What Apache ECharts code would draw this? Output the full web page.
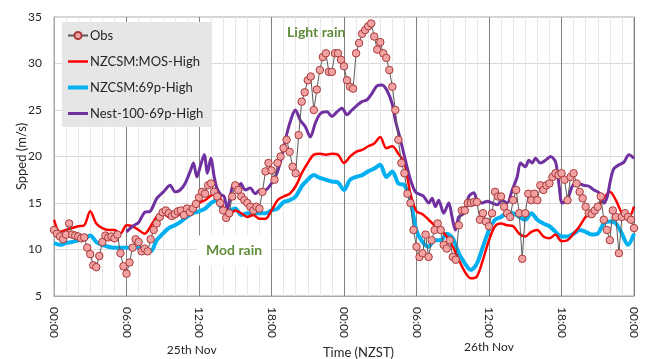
<!DOCTYPE html>
<html><head><meta charset="utf-8">
<script src="https://cdn.jsdelivr.net/npm/echarts@6/dist/echarts.min.js"></script>
<style>html,body{margin:0;padding:0;background:#fff}#c{width:648px;height:359px}</style>
</head><body><div id="c"></div>
<script>
// Observations: every 15 min from 00:00 25 Nov (hour 0) to 00:00 27 Nov (hour 48)
const obsStepHours = 0.25;
const obsValues = [
  12.1,11.7,11.4,11.1, 11.6,12.8,11.6,11.5, 11.4,11.2,11.3,10.2, 9.5,8.3,8.1,9.3,
  10.8,11.5,11.3,11.4, 11.2,11.6,9.6,8.2, 7.4,8.6,10.2,11.1, 10.8,9.8,10.1,9.8,
  11.1,12.1,12.8,13.5, 14.0,14.2,13.9,13.6, 13.8,14.1,14.2,13.7, 14.4,14.0,14.4,14.9,
  15.6,16.2,16.0,16.9, 17.1,16.2,15.7,15.0, 14.2,13.4,13.9,15.7, 16.9,16.4,15.7,15.3,
  15.0,14.6,14.2,14.6, 14.4,16.2,18.4,19.3, 18.5,17.5,19.3,20.0, 20.9,21.8,20.5,18.9,
  18.2,22.3,25.9,26.9, 28.2,28.6,25.0,27.2, 29.3,30.7,31.1,29.1, 29.1,31.1,31.1,30.4,
  29.7,28.2,27.5,27.3, 31.1,32.2,33.2,33.6, 34.0,34.3,32.9,31.5, 32.3,31.1,30.6,29.3,
  27.5,25.0,21.8,19.3, 18.2,16.0,15.0,12.1, 10.3,9.2,9.6,11.6, 9.2,11.0,12.1,12.8,
  12.1,10.5,10.1,11.0, 9.2,8.9,12.6,14.2, 14.2,15.0,15.0,15.1, 15.1,13.2,13.9,13.0,
  12.5,13.9,16.2,15.7, 15.7,14.6,13.9,13.5, 15.3,16.4,13.9,9.0, 13.9,16.0,15.3,16.0,
  15.3,16.9,16.4,16.9, 17.1,17.8,18.2,18.0, 18.2,17.5,15.3,17.8, 18.2,17.1,16.2,15.5,
  14.6,13.9,13.8,14.2, 14.6,15.7,13.2,12.1, 11.0,14.2,13.5,9.6, 13.5,13.9,13.5,13.2,
  12.3
];
// Model series every 30 min from hour 0 to hour 48
const modelStepHours = 0.5;
const mosValues = [
  13.2,11.9,12.1,12.3,12.5,12.6,14.1,12.8,12.3,12.1, 12.1,11.7,12.6,12.5,12.1,11.7,12.5,13.5,13.9,13.5,
  13.5,13.9,14.4,14.2,15.0,15.3,15.8,16.2,14.6,13.7, 14.2,13.9,13.5,13.7,13.3,13.3,14.2,15.3,15.7,16.0,
  16.8,18.2,19.3,20.2,20.3,20.2,20.3,20.2,19.3,20.0, 20.5,20.7,21.1,21.4,22.1,20.9,21.1,20.3,19.3,16.0,
  14.1,13.8,13.2,12.6,12.1,11.4,10.3,8.9,7.6,6.9, 7.1,8.9,11.0,12.5,12.8,12.6,12.5,11.7,11.4,11.9,
  12.1,11.4,11.2,11.6,10.9,11.0,11.7,12.5,13.5,13.9, 14.6,15.5,16.2,15.3,13.9,13.3,14.6
];
const p69Values = [
  10.7,10.5,10.7,10.8,11.0,11.1,11.5,10.8,10.5,10.3, 10.2,10.2,10.2,10.2,10.2,10.0,9.8,11.0,11.7,12.3,
  12.6,13.0,13.5,13.9,14.1,14.4,15.0,15.3,14.2,14.2, 14.4,13.7,13.9,13.9,13.9,13.9,14.2,14.4,15.1,15.3,
  15.7,16.8,17.5,18.0,17.7,17.5,17.3,17.2,16.4,17.5, 17.8,18.0,18.4,18.7,19.1,17.8,18.4,17.1,16.9,15.3,
  12.0,10.8,10.3,11.0,11.0,11.7,11.2,9.6,8.5,7.8, 8.5,10.3,12.1,13.2,13.5,13.9,13.9,13.5,13.2,13.9,
  13.2,12.8,12.5,11.9,11.4,11.4,11.7,12.1,11.9,11.6, 11.7,12.8,13.0,12.8,11.7,10.5,11.7
];
// Nest-100 series (starts 06:00 25 Nov), irregular read-off times
const nestHours = [
  6.0,6.5,7.0,7.5,7.95,8.51,9.06,9.61,10.02,10.44, 10.85,11.27,11.54,11.82,12.10,12.43,12.70,12.98,13.26,13.48,
  13.81,14.08,14.36,14.58,14.86,15.13,15.47,15.82,16.24,16.65, 17.07,17.48,17.89,
  18.45,18.86,19.28,19.69,19.97,20.38,20.80,21.21,21.63,22.04, 22.59,23.01,23.42,23.83,24.25,24.66,25.08,25.49,25.91,26.32,
  26.73,27.15,27.56,27.98,28.25,28.67,29.08,29.50,29.91,
  30.32,30.6,31.01,31.29,31.56,31.84,32.25,32.67,32.94,33.22, 33.5,33.91,34.33,34.74,35.02,35.43,35.85,36.26,36.67,37.09,
  37.5,37.92,38.33,38.61,39.02,39.3,39.57,39.85,40.26,40.68, 41.09,41.51,41.78,42.06,42.47,42.89,43.3,43.85,44.27,44.68,
  45.1,45.51,45.79,46.06,46.34,46.75,47.17,47.58,48.0
];
const nestValues = [
  11.9,12.5,12.9,14.0,14.1,15.5,16.2,16.9,16.2,16.4, 17.1,18.4,19.3,17.8,18.9,20.2,18.2,19.8,17.8,16.6,
  15.9,15.7,14.3,15.7,17.1,16.2,17.1,16.4,16.6,16.0, 16.4,16.4,16.9,
  18.2,20.0,22.5,24.3,25.0,23.9,23.2,22.1,23.6,24.6, 24.8,24.3,24.8,25.2,24.5,25.0,25.5,25.9,26.1,26.8,
  27.6,27.7,27.1,25.7,23.9,21.8,19.6,17.5,16.2,
  15.9,15.7,15.0,15.5,14.6,15.3,13.9,15.0,13.5,12.1, 13.5,13.9,15.7,16.1,15.3,15.0,15.2,15.0,14.8,15.3,
  15.0,16.4,17.8,19.3,18.9,19.6,19.3,19.8,19.3,19.6, 20.0,19.4,17.1,15.0,15.3,16.8,17.1,16.9,16.8,16.4,
  16.1,15.0,15.7,17.5,18.7,19.1,19.4,20.2,19.8
];
const seriesNames = ['Obs', 'NZCSM:MOS-High', 'NZCSM:69p-High', 'Nest-100-69p-High'];
const seriesColors = ['#5a5a5a', '#ff0000', '#00b0f0', '#7030a0'];
const seriesWidths = [1, 2.5, 4, 3];
const yTicks = {min: 5, max: 35, interval: 5};
const xTicks = {min: 0, max: 48, interval: 6};
const dayLabels = [{text: '25th Nov', hour: 11.4, dy: 9}, {text: '26th Nov', hour: 36, dy: 12}];
const xTitle = {text: 'Time (NZST)', hour: 25.2};
const notes = [{text: 'Light rain', hour: 21.7, value: 33.3, bg: false}, {text: 'Mod rain', hour: 14.9, value: 9.9, bg: true}];

const toPairs = (vals, step) => vals.map((v, i) => [i * step, v]);
const pad = n => (n < 10 ? '0' : '') + n;
const FONT = 'Lato, "Open Sans", sans-serif';
const TXT = '#262626';
const barIcon = w => 'path://M0,0H' + (20 / w).toFixed(3) + 'V1H0Z';

const legendData = seriesNames.map((n, i) => i === 0 ? {name: n} : {name: n, icon: barIcon(seriesWidths[i]), itemStyle: {color: seriesColors[i]}});

const chart = echarts.init(document.getElementById('c'));
chart.setOption({
  animation: false,
  backgroundColor: '#fff',
  textStyle: {fontFamily: FONT},
  grid: {left: 54, right: 14, top: 17, bottom: 63, show: true, borderColor: '#a6a6a6', borderWidth: 1},
  legend: {
    data: legendData, orient: 'vertical', left: 62, top: 22,
    backgroundColor: '#e6e6e6', padding: [7, 8, 7, 5], itemGap: 13, itemWidth: 20, itemHeight: 9,
    symbolKeepAspect: true,
    textStyle: {fontSize: 13, color: TXT, fontFamily: FONT, padding: [0, 0, 0, -3]}
  },
  xAxis: {
    type: 'value', min: xTicks.min, max: xTicks.max, interval: xTicks.interval,
    axisLine: {show: true, lineStyle: {color: '#a6a6a6'}},
    axisTick: {show: false},
    splitLine: {show: true, lineStyle: {color: '#7f7f7f', width: 1}},
    minorTick: {show: false, splitNumber: 6},
    minorSplitLine: {show: true, lineStyle: {color: '#e8e8e8', width: 1}},
    axisLabel: {rotate: -90, margin: 11, fontSize: 12, color: TXT, fontFamily: FONT,
      formatter: v => pad(v % 24) + ':00'}
  },
  yAxis: {
    type: 'value', min: yTicks.min, max: yTicks.max, interval: yTicks.interval,
    axisLine: {show: true, lineStyle: {color: '#a6a6a6'}},
    axisTick: {show: false},
    splitLine: {lineStyle: {color: '#d9d9d9'}},
    axisLabel: {fontSize: 12, color: TXT, margin: 12, fontFamily: FONT},
    name: 'Spped (m/s)', nameLocation: 'middle', nameGap: 26, nameMoveOverlap: false,
    nameTextStyle: {fontSize: 13, color: TXT, fontFamily: FONT}
  },
  series: [
    {name: seriesNames[0], type: 'line', data: toPairs(obsValues, obsStepHours), z: 5,
     symbol: 'circle', symbolSize: 7.5, showSymbol: true,
     lineStyle: {color: seriesColors[0], width: seriesWidths[0]},
     itemStyle: {color: '#f2a2a2', borderColor: '#a83a3a', borderWidth: 1}},
    {name: seriesNames[1], type: 'line', data: toPairs(mosValues, modelStepHours), z: 3,
     symbol: 'none', smooth: 0.3, lineStyle: {color: seriesColors[1], width: seriesWidths[1]}, itemStyle: {color: seriesColors[1]}},
    {name: seriesNames[2], type: 'line', data: toPairs(p69Values, modelStepHours), z: 2,
     symbol: 'none', smooth: 0.3, lineStyle: {color: seriesColors[2], width: seriesWidths[2]}, itemStyle: {color: seriesColors[2]}},
    {name: seriesNames[3], type: 'line', data: nestHours.map((h, i) => [h, nestValues[i]]), z: 4,
     symbol: 'none', smooth: 0.3, lineStyle: {color: seriesColors[3], width: seriesWidths[3]}, itemStyle: {color: seriesColors[3]}}
  ]
});

const H = chart.getHeight();
const gfx = [];
notes.forEach(n => {
  const p = chart.convertToPixel({gridIndex: 0}, [n.hour, n.value]);
  const st = {text: n.text, fill: '#5e8c3a', font: 'bold 14px ' + FONT, align: 'center', verticalAlign: 'middle'};
  if (n.bg) { st.backgroundColor = '#fff'; st.padding = [8, 9, 8, 9]; }
  gfx.push({type: 'text', x: p[0], y: p[1], z: 10, style: st});
});
dayLabels.forEach(d => {
  const p = chart.convertToPixel({gridIndex: 0}, [d.hour, 5]);
  gfx.push({type: 'text', x: p[0], y: H - d.dy, style: {text: d.text, fill: TXT, font: '12px ' + FONT, align: 'center', verticalAlign: 'middle'}});
});
{
  const p = chart.convertToPixel({gridIndex: 0}, [xTitle.hour, 5]);
  gfx.push({type: 'text', x: p[0], y: H - 6, style: {text: xTitle.text, fill: TXT, font: '13px ' + FONT, align: 'center', verticalAlign: 'middle'}});
}
chart.setOption({graphic: gfx});
</script></body></html>
